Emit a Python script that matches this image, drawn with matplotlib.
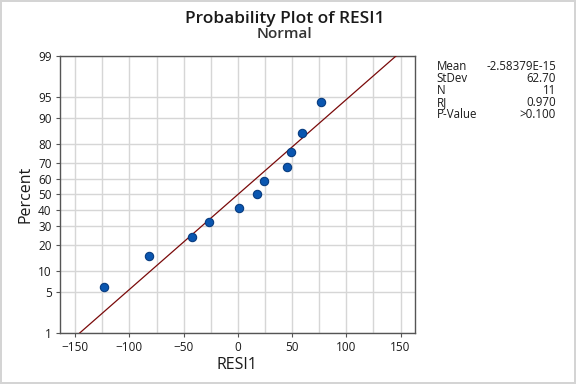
#!/usr/bin/env python3
"""Normal probability plot of RESI1 (Minitab style)."""

from statistics import NormalDist

import matplotlib

matplotlib.use("Agg")
import matplotlib.pyplot as plt
import matplotlib.ticker as mticker
import numpy as np

# residuals, sorted
resid = [-123.4, -82.2, -41.9, -26.3, 1.2, 17.7, 24.1, 45.2, 48.8, 59.0, 76.3]
# plotted percent (median ranks)
percent = [6.1, 14.9, 23.7, 32.5, 41.2, 50.0, 58.8, 67.5, 76.3, 85.1, 93.9]

y_ticks = [1, 5, 10, 20, 30, 40, 50, 60, 70, 80, 90, 95, 99]
x_ticks = [-150, -100, -50, 0, 50, 100, 150]

fit_mean = 0.0
fit_sd = 62.70

stat_names = ["Mean", "StDev", "N", "RJ", "P-Value"]
stat_values = ["-2.58379E-15", "62.70", "11", "0.970", ">0.100"]

_nd = NormalDist()
_ppf = np.vectorize(lambda p: _nd.inv_cdf(min(max(p / 100.0, 1e-9), 1 - 1e-9)),
                    otypes=[float])
_cdf = np.vectorize(lambda z: _nd.cdf(z) * 100.0, otypes=[float])

plt.rcParams.update({
    "font.family": ["Open Sans", "DejaVu Sans"],
    "font.size": 8.5,
})

fig = plt.figure(figsize=(5.76, 3.84), dpi=100)
fig.patch.set_facecolor("white")
fig.patch.set_edgecolor("#d4d4d4")
fig.patch.set_linewidth(1.5)

ax = fig.add_axes([0.1042, 0.1328, 0.6156, 0.7214])
ax.set_yscale("function", functions=(_ppf, _cdf))

# fitted line from 1% to 99%
line_p = np.array([1.0, 99.0])
line_x = fit_mean + fit_sd * _ppf(line_p)
ax.plot(line_x, line_p, color="#7a0a0a", linewidth=0.9, zorder=3)

ax.plot(resid, percent, linestyle="none", marker="o", markersize=6,
        markerfacecolor="#0a56b0", markeredgecolor="#083c80",
        markeredgewidth=0.8, zorder=4)

ax.set_xlim(-164, 163)
ax.set_ylim(1, 99)
ax.set_yticks(y_ticks)
ax.yaxis.set_major_formatter(mticker.FuncFormatter(lambda v, _: f"{v:g}"))
ax.yaxis.set_minor_locator(mticker.NullLocator())
ax.set_xticks(x_ticks)
ax.xaxis.set_minor_locator(mticker.MultipleLocator(25))

ax.grid(which="major", color="#d6d6d6", linewidth=1.0)
ax.grid(which="minor", axis="x", color="#d6d6d6", linewidth=1.0)
ax.set_axisbelow(True)

for spine in ax.spines.values():
    spine.set_color("#555555")
    spine.set_linewidth(1.0)
ax.tick_params(axis="both", which="major", length=3, color="#555555",
               labelsize=8.5, labelcolor="#1a1a1a", pad=3)
ax.tick_params(axis="x", which="minor", length=0)

ax.set_xlabel("RESI1", fontsize=11.5, color="#1a1a1a", labelpad=2)
ax.set_ylabel("Percent", fontsize=11.5, color="#1a1a1a", labelpad=3)

fig.text(0.495, 0.95, "Probability Plot of RESI1", ha="center", va="center",
         fontsize=12.5, fontweight="semibold", color="#1a1a1a")
fig.text(0.493, 0.912, "Normal", ha="center", va="center",
         fontsize=11, fontweight="semibold", color="#333333")

for i, (name, value) in enumerate(zip(stat_names, stat_values)):
    y = 0.828 - i * 0.0315
    fig.text(0.758, y, name, ha="left", va="center", fontsize=8.3,
             color="#1a1a1a")
    fig.text(0.965, y, value, ha="right", va="center", fontsize=8.3,
             color="#1a1a1a")

fig.savefig("out.png", dpi=100)
